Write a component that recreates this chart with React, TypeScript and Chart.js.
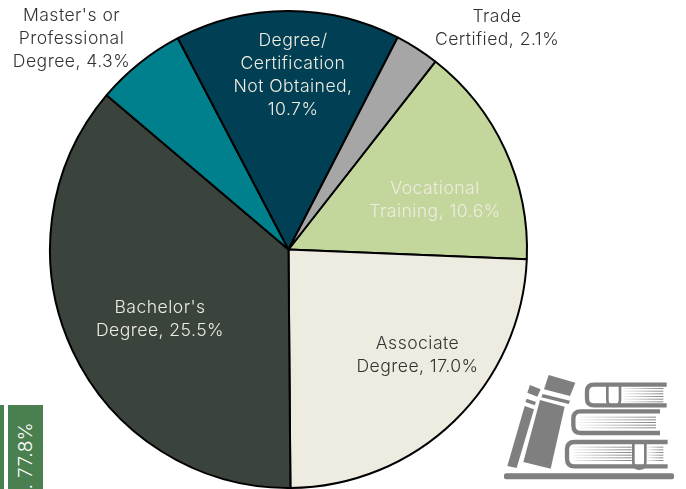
import React, { useEffect, useRef } from "react";
import { Chart, registerables } from "chart.js";

Chart.register(...registerables);

const categories = [
  "Vocational Training",
  "Associate Degree",
  "Bachelor's Degree",
  "Master's or Professional Degree",
  "Degree/ Certification Not Obtained",
  "Trade Certified",
];
const values = [10.6, 17.0, 25.5, 4.3, 10.7, 2.1];
const colors = ["#C3D69B", "#EEECE1", "#3B433D", "#007F8C", "#003F54", "#A6A6A6"];
const labelLines = [
  ["Vocational", "Training, 10.6%"],
  ["Associate", "Degree, 17.0%"],
  ["Bachelor's", "Degree, 25.5%"],
  ["Master's or", "Professional", "Degree, 4.3%"],
  ["Degree/", "Certification", "Not Obtained,", "10.7%"],
  ["Trade", "Certified, 2.1%"],
];
const labelColors = ["#EEECE1", "#333333", "#EEECE1", "#333333", "#EEECE1", "#333333"];
const labelCentres = [
  [435, 200],
  [417.5, 355],
  [160, 319.5],
  [71.5, 39],
  [293, 75],
  [497, 28],
];
const sideLabel = ". 77.8%";

const FONT = '300 17.6px "Inter"';
const SIDE_FONT = '300 19px "Inter"';
const SPACING = "0.45px";
const LINE = 23;

const labelPlugin = {
  id: "sliceLabels",
  afterDraw(chart: any) {
    const { ctx } = chart;
    ctx.save();
    ctx.font = FONT;
    ctx.letterSpacing = SPACING;
    ctx.textAlign = "center";
    ctx.textBaseline = "middle";
    labelLines.forEach((lines, i) => {
      ctx.fillStyle = labelColors[i];
      const [cx, cy] = labelCentres[i];
      lines.forEach((t, j) => {
        ctx.fillText(t, cx, cy + (j - (lines.length - 1) / 2) * LINE);
      });
    });
    ctx.restore();
  },
};

function BooksIcon() {
  const g = "#7F7F7F";
  const pages = (x1: number, x2: number, ys: number[], id: string) =>
    ys.map((y, i) => (
      <rect key={id + i} x={x1} y={y} width={x2 - x1} height={3} fill="url(#fadeR)" />
    ));
  return (
    <svg
      viewBox="0 0 588 387"
      width={196}
      height={129}
      style={{ position: "absolute", left: 490, top: 360 }}
    >
      <defs>
        <linearGradient id="fadeR" x1="0" x2="1" y1="0" y2="0">
          <stop offset="0" stopColor={g} stopOpacity="0.1" />
          <stop offset="1" stopColor={g} />
        </linearGradient>
      </defs>
      <rect x={42} y={340} width={510} height={18} rx={6} fill={g} />
      <polygon points="120,75 152,88 142,110 112,98" fill={g} />
      <polygon points="110,116 138,126 134,136 106,126" fill={g} />
      <polygon points="104,138 132,148 80,324 52,318" fill={g} />
      <polygon points="176,45 256,68 240,108 162,88" fill={g} />
      <polygon points="158,102 240,122 236,132 154,112" fill={g} />
      <polygon points="150,120 224,140 182,326 100,306" fill={g} />
      <path d="M530 74 H312 Q291 74 291 95 V116 Q291 136 312 136 H530" fill="none" stroke={g} strokeWidth={13} />
      <path d="M352 76 V120 Q352 138 370 138 Q390 138 390 120 V76" fill="none" stroke={g} strokeWidth={8} />
      <path d="M510 154 H272 Q250 154 250 176 V196 Q250 219 272 219 H510" fill="none" stroke={g} strokeWidth={13} />
      <path d="M533 246 H254 Q231 246 231 268 V296 Q231 319 254 319 H533" fill="none" stroke={g} strokeWidth={13} />
      <path d="M430 248 V306 Q430 326 448 326 Q466 326 466 306 V248" fill="none" stroke={g} strokeWidth={8} />
      {pages(400, 520, [84, 92, 100, 108, 116, 124], "a")}
      {pages(270, 498, [170, 178, 186, 194, 202], "b")}
      {pages(250, 425, [260, 268, 276, 284, 292, 300], "c")}
      {pages(470, 520, [260, 268, 276, 284, 292, 300], "d")}
    </svg>
  );
}

export default function App() {
  const ref = useRef<HTMLCanvasElement>(null);
  useEffect(() => {
    document.body.style.margin = "0";
    const chart = new Chart(ref.current!, {
      type: "pie",
      data: {
        labels: categories,
        datasets: [
          {
            data: values,
            backgroundColor: colors,
            borderColor: "#000000",
            borderWidth: 2,
          },
        ],
      },
      options: {
        responsive: false,
        animation: false,
        rotation: 38,
        layout: { padding: { left: 48, right: 157, top: 10, bottom: -1 } },
        plugins: { legend: { display: false }, tooltip: { enabled: false } },
      },
      plugins: [labelPlugin],
    } as any);
    return () => chart.destroy();
  }, []);
  return (
    <div style={{ position: "relative", width: 686, height: 489, overflow: "hidden", background: "#fff" }}>
      <canvas ref={ref} width={686} height={489} style={{ display: "block" }} />
      <div style={{ position: "absolute", left: 0, top: 405, width: 4, height: 84, background: "#4A7F50" }} />
      <div style={{ position: "absolute", left: 8, top: 405, width: 35, height: 84, background: "#4A7F50", overflow: "hidden" }}>
        <div
          style={{
            position: "absolute",
            left: 17,
            top: 17,
            transformOrigin: "0 0",
            transform: "rotate(-90deg) translate(-100%,-50%)",
            color: "#fff",
            font: SIDE_FONT,
            letterSpacing: SPACING,
            whiteSpace: "pre",
          }}
        >
          {sideLabel}
        </div>
      </div>
      <BooksIcon />
    </div>
  );
}
